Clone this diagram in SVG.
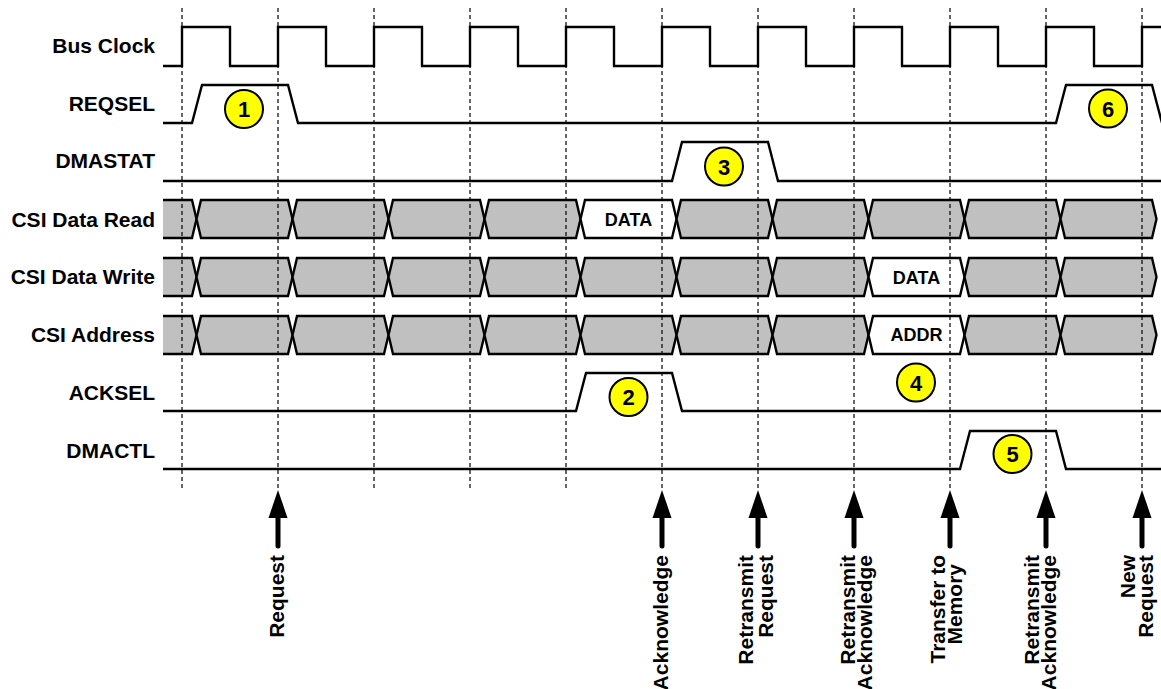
<svg xmlns="http://www.w3.org/2000/svg" xmlns:xlink="http://www.w3.org/1999/xlink" width="1161" height="689" viewBox="0 0 1161 689">
<style>
.lbl{font-family:"Liberation Sans",Arial,sans-serif;font-weight:bold;font-size:21px;fill:#000}
.lh{text-anchor:end}
.lv{text-anchor:end}
.sig{fill:none;stroke:#000;stroke-width:2.4;stroke-linejoin:miter}
.bus{fill:#c0c0c0;stroke:#000;stroke-width:2.4;stroke-linejoin:miter}
.busw{fill:#fff;stroke:#000;stroke-width:2.4;stroke-linejoin:miter}
.bt{font-family:"Liberation Sans",Arial,sans-serif;font-weight:bold;font-size:18px;text-anchor:middle;fill:#000}
.grid{stroke:#000;stroke-width:1.2;stroke-dasharray:4 3;fill:none}
.num{fill:#ffff00;stroke:#000;stroke-width:2}
.nt{font-family:"Liberation Sans",Arial,sans-serif;font-weight:bold;font-size:22px;text-anchor:middle;fill:#000}
.ah{fill:#000}
.as{stroke:#000;stroke-width:5;stroke-linecap:round}
</style>
<defs>
<polygon id="seg" points="4.5,0 91.5,0 96,19 91.5,38 4.5,38 0,19"/>
<g id="arr"><polygon class="ah" points="0,490 -9.5,518 9.5,518"/><line class="as" x1="0" y1="516" x2="0" y2="546"/></g>
</defs>
<rect width="1161" height="689" fill="#fff"/>

<g id="labels">
<text class="lbl lh" x="155" y="53">Bus Clock</text>
<text class="lbl lh" x="155" y="111">REQSEL</text>
<text class="lbl lh" x="155" y="168">DMASTAT</text>
<text class="lbl lh" x="155" y="226.5">CSI Data Read</text>
<text class="lbl lh" x="155" y="284">CSI Data Write</text>
<text class="lbl lh" x="155" y="342">CSI Address</text>
<text class="lbl lh" x="155" y="400">ACKSEL</text>
<text class="lbl lh" x="155" y="458">DMACTL</text>
</g>

<g id="bus-clock"><path class="sig" d="M163,66 H182 V27 H230 V66 H278 V27 H326 V66 H374 V27 H422 V66 H470 V27 H518 V66 H566 V27 H614 V66 H662 V27 H710 V66 H758 V27 H806 V66 H854 V27 H902 V66 H950 V27 H998 V66 H1046 V27 H1094 V66 H1142 V27 H1162"/></g>
<g id="reqsel"><path class="sig" d="M163,123 H192 L202,85 H288 L298,123 H1056 L1066,85 H1152 L1162,123"/></g>
<g id="dmastat"><path class="sig" d="M163,181 H672 L682,142 H768 L778,181 H1162"/></g>

<g id="csi-data-read">
<path class="bus" d="M163,200 H192 L196.5,219 L192,238 H163"/>
<use xlink:href="#seg" class="bus" x="196.5" y="200"/>
<use xlink:href="#seg" class="bus" x="292.5" y="200"/>
<use xlink:href="#seg" class="bus" x="388.5" y="200"/>
<use xlink:href="#seg" class="bus" x="484.5" y="200"/>
<use xlink:href="#seg" class="busw" x="580.5" y="200"/>
<use xlink:href="#seg" class="bus" x="676.5" y="200"/>
<use xlink:href="#seg" class="bus" x="772.5" y="200"/>
<use xlink:href="#seg" class="bus" x="868.5" y="200"/>
<use xlink:href="#seg" class="bus" x="964.5" y="200"/>
<use xlink:href="#seg" class="bus" x="1060.5" y="200"/>
<text class="bt" x="628.5" y="225.5">DATA</text>
</g>
<g id="csi-data-write">
<path class="bus" d="M163,258 H192 L196.5,277 L192,296 H163"/>
<use xlink:href="#seg" class="bus" x="196.5" y="258"/>
<use xlink:href="#seg" class="bus" x="292.5" y="258"/>
<use xlink:href="#seg" class="bus" x="388.5" y="258"/>
<use xlink:href="#seg" class="bus" x="484.5" y="258"/>
<use xlink:href="#seg" class="bus" x="580.5" y="258"/>
<use xlink:href="#seg" class="bus" x="676.5" y="258"/>
<use xlink:href="#seg" class="bus" x="772.5" y="258"/>
<use xlink:href="#seg" class="busw" x="868.5" y="258"/>
<use xlink:href="#seg" class="bus" x="964.5" y="258"/>
<use xlink:href="#seg" class="bus" x="1060.5" y="258"/>
<text class="bt" x="916.5" y="283.5">DATA</text>
</g>
<g id="csi-address">
<path class="bus" d="M163,316 H192 L196.5,335 L192,354 H163"/>
<use xlink:href="#seg" class="bus" x="196.5" y="316"/>
<use xlink:href="#seg" class="bus" x="292.5" y="316"/>
<use xlink:href="#seg" class="bus" x="388.5" y="316"/>
<use xlink:href="#seg" class="bus" x="484.5" y="316"/>
<use xlink:href="#seg" class="bus" x="580.5" y="316"/>
<use xlink:href="#seg" class="bus" x="676.5" y="316"/>
<use xlink:href="#seg" class="bus" x="772.5" y="316"/>
<use xlink:href="#seg" class="busw" x="868.5" y="316"/>
<use xlink:href="#seg" class="bus" x="964.5" y="316"/>
<use xlink:href="#seg" class="bus" x="1060.5" y="316"/>
<text class="bt" x="916.5" y="341">ADDR</text>
</g>

<g id="acksel"><path class="sig" d="M163,411 H576 L586,373 H672 L682,411 H1162"/></g>
<g id="dmactl"><path class="sig" d="M163,469 H960 L970,431 H1056 L1066,469 H1162"/></g>

<g id="grid">
<line class="grid" x1="182" y1="8" x2="182" y2="490"/>
<line class="grid" x1="278" y1="8" x2="278" y2="490"/>
<line class="grid" x1="374" y1="8" x2="374" y2="490"/>
<line class="grid" x1="470" y1="8" x2="470" y2="490"/>
<line class="grid" x1="566" y1="8" x2="566" y2="490"/>
<line class="grid" x1="662" y1="8" x2="662" y2="490"/>
<line class="grid" x1="758" y1="8" x2="758" y2="490"/>
<line class="grid" x1="854" y1="8" x2="854" y2="490"/>
<line class="grid" x1="950" y1="8" x2="950" y2="490"/>
<line class="grid" x1="1046" y1="8" x2="1046" y2="490"/>
<line class="grid" x1="1142" y1="8" x2="1142" y2="490"/>
</g>

<g id="callouts">
<g id="c1"><circle class="num" cx="244" cy="109" r="19"/><text class="nt" x="244" y="117">1</text></g>
<g id="c2"><circle class="num" cx="628.5" cy="397" r="19"/><text class="nt" x="628.5" y="405">2</text></g>
<g id="c3"><circle class="num" cx="724" cy="166.5" r="19"/><text class="nt" x="724" y="174.5">3</text></g>
<g id="c4"><circle class="num" cx="916" cy="382.5" r="19"/><text class="nt" x="916" y="390.5">4</text></g>
<g id="c5"><circle class="num" cx="1012.5" cy="454" r="19"/><text class="nt" x="1012.5" y="462">5</text></g>
<g id="c6"><circle class="num" cx="1108" cy="108.5" r="19"/><text class="nt" x="1108" y="116.5">6</text></g>
</g>

<g id="event-arrows">
<use xlink:href="#arr" x="278"/>
<use xlink:href="#arr" x="662"/>
<use xlink:href="#arr" x="758"/>
<use xlink:href="#arr" x="854"/>
<use xlink:href="#arr" x="950"/>
<use xlink:href="#arr" x="1046"/>
<use xlink:href="#arr" x="1142"/>
</g>

<g id="event-labels">
<text class="lbl lv" transform="translate(284,555) rotate(-90)">Request</text>
<text class="lbl lv" transform="translate(668,555) rotate(-90)">Acknowledge</text>
<text class="lbl lv" transform="translate(753,555) rotate(-90)">Retransmit</text>
<text class="lbl lv" transform="translate(773,555) rotate(-90)">Request</text>
<text class="lbl lv" transform="translate(855,555) rotate(-90)">Retransmit</text>
<text class="lbl lv" transform="translate(872,555) rotate(-90)">Acknowledge</text>
<text class="lbl lv" transform="translate(945,555) rotate(-90)">Transfer to</text>
<text class="lbl lv" transform="translate(961.5,564) rotate(-90)">Memory</text>
<text class="lbl lv" transform="translate(1038.5,555) rotate(-90)">Retransmit</text>
<text class="lbl lv" transform="translate(1056,555) rotate(-90)">Acknowledge</text>
<text class="lbl lv" transform="translate(1135,555) rotate(-90)">New</text>
<text class="lbl lv" transform="translate(1153,555) rotate(-90)">Request</text>
</g>
</svg>
